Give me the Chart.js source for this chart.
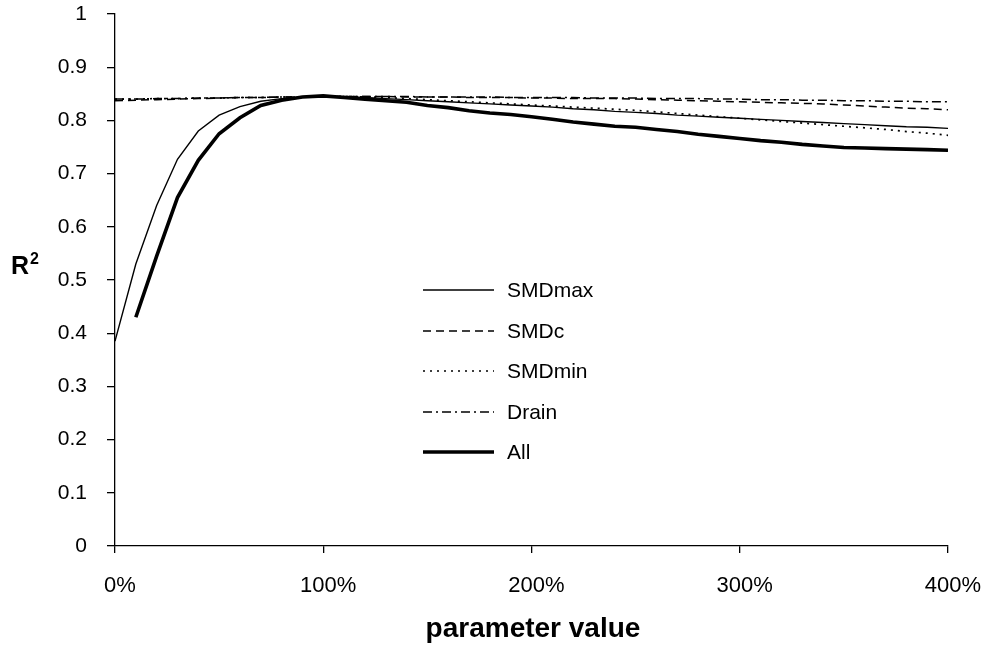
<!DOCTYPE html>
<html>
<head>
<meta charset="utf-8">
<script src="https://cdn.jsdelivr.net/npm/chart.js@4"></script>
<style>
  html, body { margin: 0; padding: 0; background: #fff; }
  #wrap { width: 986px; height: 649px; position: relative; }
</style>
</head>
<body>
<div id="wrap"><canvas id="r2Chart"></canvas></div>
<script>
// parameter value (%) along the x axis
const paramValues = [0, 10, 20, 30, 40, 50, 60, 70, 80, 90, 100,
    110, 120, 130, 140, 150, 160, 170, 180, 190, 200,
    210, 220, 230, 240, 250, 260, 270, 280, 290, 300,
    310, 320, 330, 340, 350, 360, 370, 380, 390, 400];

const smdMax = [0.385, 0.53, 0.64, 0.727, 0.78, 0.81, 0.826, 0.836, 0.841, 0.844, 0.845,
    0.844, 0.843, 0.841, 0.839, 0.837, 0.835, 0.833, 0.831, 0.829, 0.827,
    0.825, 0.822, 0.82, 0.817, 0.815, 0.813, 0.81, 0.808, 0.806, 0.804,
    0.802, 0.8, 0.798, 0.796, 0.794, 0.792, 0.79, 0.788, 0.787, 0.785];

const smdC = [0.837, 0.838, 0.839, 0.84, 0.841, 0.842, 0.843, 0.843, 0.844, 0.844, 0.845,
    0.845, 0.845, 0.845, 0.844, 0.844, 0.844, 0.843, 0.843, 0.843, 0.842,
    0.842, 0.841, 0.841, 0.841, 0.84, 0.839, 0.838, 0.837, 0.836, 0.835,
    0.834, 0.833, 0.832, 0.831, 0.829, 0.827, 0.825, 0.823, 0.822, 0.82];

const smdMin = [0.84, 0.84, 0.841, 0.841, 0.842, 0.842, 0.843, 0.843, 0.844, 0.844, 0.845,
    0.845, 0.844, 0.843, 0.841, 0.839, 0.837, 0.835, 0.833, 0.831, 0.829,
    0.827, 0.825, 0.823, 0.821, 0.819, 0.816, 0.813, 0.81, 0.807, 0.804,
    0.801, 0.798, 0.795, 0.792, 0.789, 0.786, 0.783, 0.779, 0.776, 0.772];

const drain = [0.84, 0.84, 0.841, 0.841, 0.842, 0.842, 0.843, 0.843, 0.844, 0.844, 0.845,
    0.845, 0.845, 0.845, 0.845, 0.844, 0.844, 0.844, 0.844, 0.843, 0.843,
    0.843, 0.843, 0.842, 0.842, 0.842, 0.841, 0.841, 0.841, 0.84, 0.84,
    0.839, 0.839, 0.838, 0.838, 0.837, 0.837, 0.836, 0.836, 0.835, 0.835];

const allParams = [null, 0.43, 0.545, 0.655, 0.725, 0.775, 0.805, 0.828, 0.838, 0.844, 0.846,
    0.843, 0.84, 0.837, 0.834, 0.828, 0.824, 0.818, 0.814, 0.811, 0.807,
    0.802, 0.797, 0.793, 0.789, 0.787, 0.783, 0.779, 0.774, 0.77, 0.766,
    0.762, 0.759, 0.755, 0.752, 0.749, 0.748, 0.747, 0.746, 0.745, 0.744];

const seriesNames = ['SMDmax', 'SMDc', 'SMDmin', 'Drain', 'All'];
const xTicks = [0, 100, 200, 300, 400];
const yTicks = [0, 0.1, 0.2, 0.3, 0.4, 0.5, 0.6, 0.7, 0.8, 0.9, 1];
const xTitle = 'parameter value';

const FONT = 'Arial, "Liberation Sans", sans-serif';

function toPoints(values) {
    return paramValues.map((x, i) => ({ x: x, y: values[i] }));
}

// line styles for each series
const styles = [
    { width: 1.4, dash: [] },
    { width: 1.5, dash: [8, 5] },
    { width: 1.7, dash: [2, 5] },
    { width: 1.5, dash: [9, 4, 2, 4] },
    { width: 3.6, dash: [] }
];

const seriesValues = [smdMax, smdC, smdMin, drain, allParams];

const datasets = seriesValues.map((vals, i) => ({
    label: seriesNames[i],
    data: toPoints(vals),
    borderColor: '#000',
    borderWidth: styles[i].width,
    borderDash: styles[i].dash,
    pointRadius: 0,
    tension: 0,
    fill: false,
    spanGaps: false
}));

// Legend inside the plot, horizontal R² title and x title
const extrasPlugin = {
    id: 'extras',
    afterDraw(chart) {
        const ctx = chart.ctx;
        ctx.save();
        // legend
        const lineX0 = 423, lineX1 = 494, textX = 507;
        const rowY = [290, 331, 371, 412, 452];
        chart.data.datasets.forEach((ds, i) => {
            const y = rowY[i];
            ctx.beginPath();
            ctx.strokeStyle = '#000';
            ctx.lineWidth = ds.borderWidth;
            ctx.setLineDash(ds.borderDash || []);
            ctx.moveTo(lineX0, y);
            ctx.lineTo(lineX1, y);
            ctx.stroke();
            ctx.setLineDash([]);
            ctx.fillStyle = '#000';
            ctx.font = '21px ' + FONT;
            ctx.textAlign = 'left';
            ctx.textBaseline = 'middle';
            ctx.fillText(ds.label, textX, y + 1);
        });
        // y title: R with superscript 2
        ctx.textAlign = 'left';
        ctx.textBaseline = 'alphabetic';
        ctx.font = 'bold 25px ' + FONT;
        ctx.fillText('R', 11, 274);
        ctx.font = 'bold 16px ' + FONT;
        ctx.fillText('2', 30, 264);
        // x title
        ctx.font = 'bold 28px ' + FONT;
        ctx.textAlign = 'center';
        ctx.textBaseline = 'middle';
        ctx.fillText(xTitle, 533, 629);
        ctx.restore();
    }
};

const chartCtx = document.getElementById('r2Chart');
new Chart(chartCtx, {
    type: 'line',
    data: { datasets: datasets },
    options: {
        responsive: true,
        maintainAspectRatio: false,
        animation: false,
        layout: { padding: { top: 14, right: 38, left: 0, bottom: 0 } },
        plugins: {
            legend: { display: false },
            tooltip: { enabled: false }
        },
        scales: {
            x: {
                type: 'linear',
                min: 0,
                max: 400,
                afterBuildTicks: (scale) => { scale.ticks = xTicks.map(v => ({ value: v })); },
                afterFit: (scale) => {
                    scale.height = 103;
                    scale.paddingLeft = 0;
                    scale.paddingRight = 0;
                },
                grid: { drawOnChartArea: false, drawTicks: true, tickLength: 7, color: '#000', lineWidth: 1.3 },
                border: { display: true, color: '#000', width: 1.3 },
                ticks: {
                    color: '#000',
                    font: { family: FONT, size: 22 },
                    padding: 20,
                    labelOffset: 5,
                    maxRotation: 0,
                    callback: (v) => v + '%'
                }
            },
            y: {
                min: 0,
                max: 1,
                afterBuildTicks: (scale) => { scale.ticks = yTicks.map(v => ({ value: v })); },
                afterFit: (scale) => {
                    scale.width = 115;
                    scale.paddingTop = 0;
                    scale.paddingBottom = 0;
                },
                grid: { drawOnChartArea: false, drawTicks: true, tickLength: 8, color: '#000', lineWidth: 1.3 },
                border: { display: true, color: '#000', width: 1.3 },
                ticks: {
                    color: '#000',
                    font: { family: FONT, size: 21 },
                    padding: 20,
                    callback: (v) => (v === 0 || v === 1) ? String(v) : v.toFixed(1)
                }
            }
        }
    },
    plugins: [extrasPlugin]
});
</script>
</body>
</html>
